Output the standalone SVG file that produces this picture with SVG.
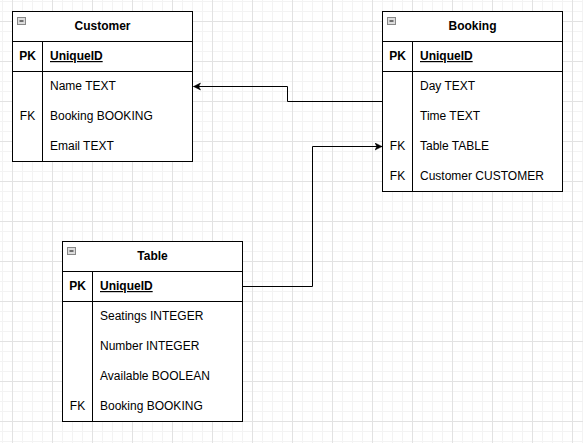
<svg xmlns="http://www.w3.org/2000/svg" width="583" height="443" viewBox="0 0 583 443">
<style>
.box{fill:#ffffff;stroke:#000000;stroke-width:1}
.ln{stroke:#000000;stroke-width:1;fill:none}
.t{font-family:"Liberation Sans",Arial,sans-serif;font-size:12px;fill:#000000}
.h{font-weight:bold;text-anchor:middle}
.k{text-anchor:middle}
.b{font-weight:bold}
.icon{fill:#dddddd;stroke:#888888;stroke-width:1}
.conn{stroke:#000000;stroke-width:1;fill:none}
</style>
<defs>
<pattern id="grid" x="12" y="21" width="40" height="40" patternUnits="userSpaceOnUse">
<path d="M10.5,0V40M20.5,0V40M30.5,0V40M0,10.5H40M0,20.5H40M0,30.5H40" stroke="#f3f3f3" stroke-width="1" fill="none"/>
<path d="M0.5,0V40M0,0.5H40" stroke="#e2e2e2" stroke-width="1" fill="none"/>
</pattern>
<marker id="arr" markerUnits="userSpaceOnUse" markerWidth="10" markerHeight="10" refX="7" refY="4" orient="auto">
<path d="M0,0.5 L7,4 L0,7.5 L1.8,4 Z" fill="#000000" stroke="#000000" stroke-width="0.5"/>
</marker>
</defs>
<rect x="0" y="0" width="583" height="443" fill="#ffffff"/>
<rect x="0" y="0" width="583" height="443" fill="url(#grid)"/>

<g id="connectors">
<path class="conn" d="M382.5,101.5 H287.5 V86.5 H193.5" marker-end="url(#arr)"/>
<path class="conn" d="M242.5,286.5 H312.5 V146.5 H382" marker-end="url(#arr)"/>
</g>

<g id="customer">
<rect class="box" x="12.5" y="11.5" width="180" height="150"/>
<path class="ln" d="M12.5,41.5H192.5M12.5,71.5H192.5M42.5,41.5V161.5"/>
<rect class="icon" x="17.5" y="17.5" width="8" height="7"/>
<path d="M19.5,21H23.5" stroke="#000" stroke-width="1"/>
<text class="t h" x="102.5" y="30">Customer</text>
<text class="t k b" x="27.5" y="60">PK</text>
<text class="t b" x="50" y="60" text-decoration="underline">UniqueID</text>
<text class="t" x="50" y="90">Name TEXT</text>
<text class="t k" x="27.5" y="120">FK</text>
<text class="t" x="50" y="120">Booking BOOKING</text>
<text class="t" x="50" y="150">Email TEXT</text>
</g>

<g id="booking">
<rect class="box" x="382.5" y="11.5" width="180" height="180"/>
<path class="ln" d="M382.5,41.5H562.5M382.5,71.5H562.5M412.5,41.5V191.5"/>
<rect class="icon" x="387.5" y="17.5" width="8" height="7"/>
<path d="M389.5,21H393.5" stroke="#000" stroke-width="1"/>
<text class="t h" x="472.5" y="30">Booking</text>
<text class="t k b" x="397.5" y="60">PK</text>
<text class="t b" x="420" y="60" text-decoration="underline">UniqueID</text>
<text class="t" x="420" y="90">Day TEXT</text>
<text class="t" x="420" y="120">Time TEXT</text>
<text class="t k" x="397.5" y="150">FK</text>
<text class="t" x="420" y="150">Table TABLE</text>
<text class="t k" x="397.5" y="180">FK</text>
<text class="t" x="420" y="180">Customer CUSTOMER</text>
</g>

<g id="table">
<rect class="box" x="62.5" y="241.5" width="180" height="180"/>
<path class="ln" d="M62.5,271.5H242.5M62.5,301.5H242.5M92.5,271.5V421.5"/>
<rect class="icon" x="67.5" y="247.5" width="8" height="7"/>
<path d="M69.5,251H73.5" stroke="#000" stroke-width="1"/>
<text class="t h" x="152.5" y="260">Table</text>
<text class="t k b" x="77.5" y="290">PK</text>
<text class="t b" x="100" y="290" text-decoration="underline">UniqueID</text>
<text class="t" x="100" y="320">Seatings INTEGER</text>
<text class="t" x="100" y="350">Number INTEGER</text>
<text class="t" x="100" y="380">Available BOOLEAN</text>
<text class="t k" x="77.5" y="410">FK</text>
<text class="t" x="100" y="410">Booking BOOKING</text>
</g>
</svg>
